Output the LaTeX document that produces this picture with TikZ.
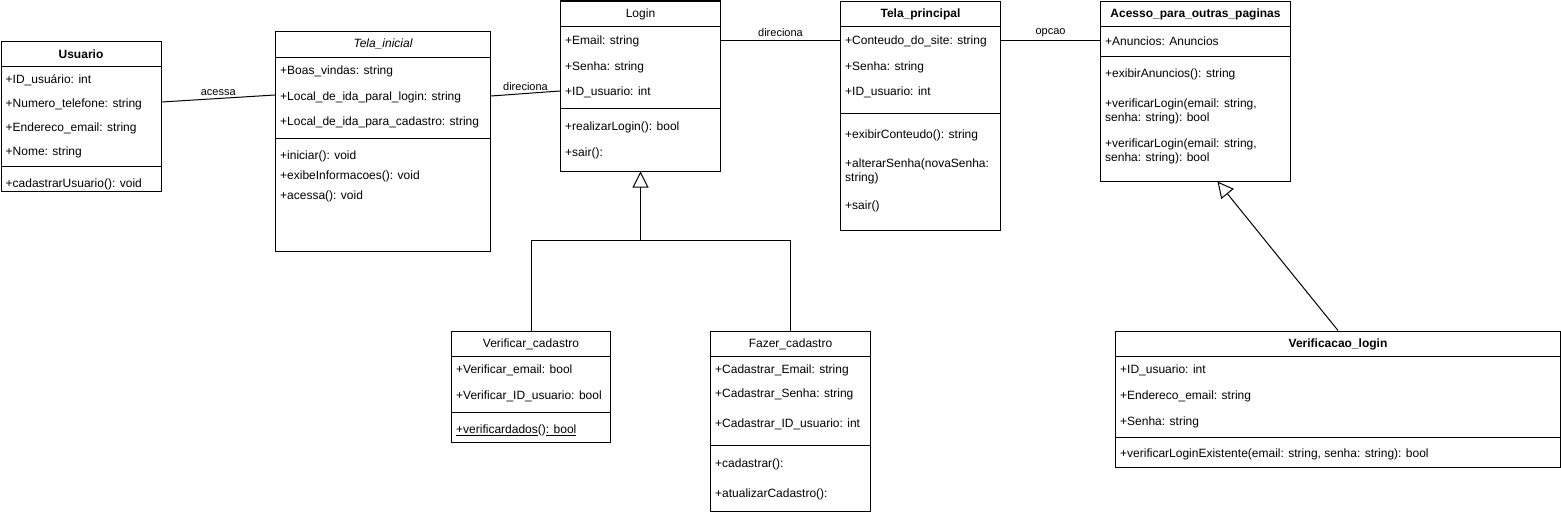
\documentclass[tikz,border=0pt]{standalone}
\usepackage{fontspec}
\setmainfont{Liberation Sans}
\usetikzlibrary{arrows.meta}
\tikzset{
  box/.style={draw, line width=1pt, inner sep=0pt, anchor=north west, fill=white},
  txt/.style={anchor=west, inner sep=0pt, font=\fontsize{12}{14.5}\selectfont, align=left},
  ttl/.style={anchor=center, inner sep=0pt, font=\fontsize{12}{14.5}\selectfont},
  bttl/.style={ttl, font=\fontsize{12}{14.5}\selectfont\bfseries},
  ittl/.style={ttl, font=\fontsize{12}{14.5}\selectfont\itshape},
  lbl/.style={inner sep=0pt, font=\fontsize{11}{13}\selectfont},
  conn/.style={line width=1pt},
  inherit/.style={line width=1pt, -{Triangle[open, length=16pt, width=16pt, fill=white]}},
}
\newcommand{\mytxt}[4]{\node[txt] (#1) at ([xshift=5pt,yshift=-#3pt-1pt]#2.north west) {#4};}
\newcommand{\myttl}[4]{\node[#4] (#1) at ([yshift=-13.5pt]#2.north) {#3};}
\newcommand{\mydiv}[2]{\draw[line width=1pt] ([yshift=-#2pt]#1.north west) -- ([yshift=-#2pt]#1.north east);}
\begin{document}
\begin{tikzpicture}[x=1pt,y=-1pt]
\useasboundingbox[fill=white] (0,0) rectangle (1561,514);

% Usuario
\node[box, minimum width=160pt, minimum height=150pt] (usuario) at (0.5,40.5) {};
\myttl{usuarioT}{usuario}{Usuario}{bttl}
\mydiv{usuario}{26}
\mytxt{u1}{usuario}{39}{+ID\_usuário: int}
\mytxt{u2}{usuario}{63}{+Numero\_telefone: string}
\mytxt{u3}{usuario}{87}{+Endereco\_email: string}
\mytxt{u4}{usuario}{111}{+Nome: string}
\mydiv{usuario}{126}
\mytxt{u5}{usuario}{143}{+cadastrarUsuario(): void}

% Tela_inicial
\node[box, minimum width=215pt, minimum height=220pt] (telai) at (275,30.5) {};
\myttl{telaiT}{telai}{Tela\_inicial}{ittl}
\mydiv{telai}{27}
\mytxt{t1}{telai}{40}{+Boas\_vindas: string}
\mytxt{t2}{telai}{66}{+Local\_de\_ida\_paral\_login: string}
\mytxt{t3}{telai}{91}{+Local\_de\_ida\_para\_cadastro: string}
\mydiv{telai}{108}
\mytxt{t4}{telai}{125}{+iniciar(): void}
\mytxt{t5}{telai}{145}{+exibeInformacoes(): void}
\mytxt{t6}{telai}{165}{+acessa(): void}

% Login
\node[box, minimum width=160pt, minimum height=170pt] (login) at (560,0.5) {};
\myttl{loginT}{login}{Login}{ttl}
\mydiv{login}{26}
\mytxt{l1}{login}{40}{+Email: string}
\mytxt{l2}{login}{66}{+Senha: string}
\mytxt{l3}{login}{91}{+ID\_usuario: int}
\mydiv{login}{108}
\mytxt{l4}{login}{126}{+realizarLogin(): bool}
\mytxt{l5}{login}{152}{+sair():}

% Tela_principal
\node[box, minimum width=160pt, minimum height=229pt] (telap) at (840,0.5) {};
\myttl{telapT}{telap}{Tela\_principal}{bttl}
\mydiv{telap}{26}
\mytxt{p1}{telap}{40}{+Conteudo\_do\_site: string}
\mytxt{p2}{telap}{66}{+Senha: string}
\mytxt{p3}{telap}{91}{+ID\_usuario: int}
\mydiv{telap}{113}
\mytxt{p4}{telap}{134}{+exibirConteudo(): string}
\mytxt{p5}{telap}{170}{+alterarSenha(novaSenha:\\string)}
\mytxt{p6}{telap}{205}{+sair()}

% Acesso_para_outras_paginas
\node[box, minimum width=190pt, minimum height=180pt] (acesso) at (1100,0.5) {};
\myttl{acessoT}{acesso}{Acesso\_para\_outras\_paginas}{bttl}
\mydiv{acesso}{26}
\mytxt{a1}{acesso}{40}{+Anuncios: Anuncios}
\mydiv{acesso}{56}
\mytxt{a2}{acesso}{73}{+exibirAnuncios(): string}
\mytxt{a3}{acesso}{110}{+verificarLogin(email: string,\\senha: string): bool}
\mytxt{a4}{acesso}{150}{+verificarLogin(email: string,\\senha: string): bool}

% Verificar_cadastro
\node[box, minimum width=159pt, minimum height=111pt] (vcad) at (451,330.5) {};
\myttl{vcadT}{vcad}{Verificar\_cadastro}{ttl}
\mydiv{vcad}{26}
\mytxt{v1}{vcad}{39}{+Verificar\_email: bool}
\mytxt{v2}{vcad}{65}{+Verificar\_ID\_usuario: bool}
\mydiv{vcad}{82}
\mytxt{v3}{vcad}{99}{\underline{+verificardados}()\underline{: bool}}

% Fazer_cadastro
\node[box, minimum width=160pt, minimum height=180pt] (fcad) at (710,330.5) {};
\myttl{fcadT}{fcad}{Fazer\_cadastro}{ttl}
\mydiv{fcad}{26}
\mytxt{f1}{fcad}{39}{+Cadastrar\_Email: string}
\mytxt{f2}{fcad}{63}{+Cadastrar\_Senha: string}
\mytxt{f3}{fcad}{93}{+Cadastrar\_ID\_usuario: int}
\mydiv{fcad}{115}
\mytxt{f4}{fcad}{133}{+cadastrar():}
\mytxt{f5}{fcad}{163}{+atualizarCadastro():}

% Verificacao_login
\node[box, minimum width=445pt, minimum height=136pt] (vlog) at (1115,330.5) {};
\myttl{vlogT}{vlog}{Verificacao\_login}{bttl}
\mydiv{vlog}{26}
\mytxt{w1}{vlog}{39}{+ID\_usuario: int}
\mytxt{w2}{vlog}{65}{+Endereco\_email: string}
\mytxt{w3}{vlog}{91}{+Senha: string}
\mydiv{vlog}{107}
\mytxt{w4}{vlog}{123}{+verificarLoginExistente(email: string, senha: string): bool}

% Associations
\draw[conn] ([yshift=-61.5pt]usuario.north east) -- node[lbl, above=2pt, pos=0.5] (lacessa) {acessa} ([yshift=-64.5pt]telai.north west);
\draw[conn] ([yshift=-65.5pt]telai.north east) -- node[lbl, above=2pt] (ldir1) {direciona} ([yshift=-90.5pt]login.north west);
\draw[conn] ([yshift=-39.5pt]login.north east) -- node[lbl, above=3pt] (ldir2) {direciona} ([yshift=-39.5pt]telap.north west);
\draw[conn] ([yshift=-39.5pt]telap.north east) -- node[lbl, above=3pt] (lopcao) {opcao} ([yshift=-39.5pt]acesso.north west);

% Generalizations
\coordinate (junc) at (640.5,240.5);
\draw[conn] (vcad.north) |- (junc);
\draw[conn] (fcad.north) |- (junc);
\draw[inherit] (junc) -- (login.south);
\draw[inherit] (vlog.north) -- ([xshift=22pt]acesso.south);
\end{tikzpicture}
\end{document}
